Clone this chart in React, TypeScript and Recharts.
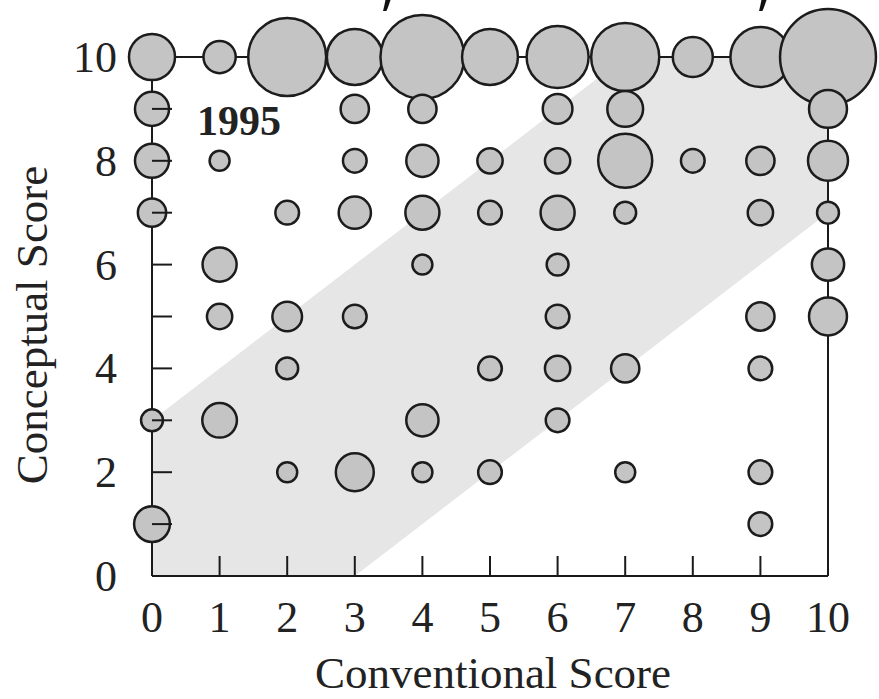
import React from 'react';
import { ComposedChart, Scatter, Area, XAxis, YAxis, ZAxis, ReferenceLine } from 'recharts';

const xTicks = [0, 1, 2, 3, 4, 5, 6, 7, 8, 9, 10];
const yTicks = [0, 1, 2, 3, 4, 5, 6, 7, 8, 9, 10];
const yLabelled = [0, 2, 4, 6, 8, 10];

// shaded band: conceptual score within 3 points of conventional score
const bandX = [0, 3, 7, 10];
const bandLow = [0, 0, 4, 7];
const bandHigh = [3, 6, 10, 10];

// bubbles, one list per conceptual score; z = relative bubble area
const row10X = [0, 1, 2, 3, 4, 5, 6, 7, 8, 9, 10];
const row10Z = [5.3, 2.6, 15.2, 7.8, 17.6, 7.8, 9.6, 11.6, 4, 9, 23];
const row9X = [0, 3, 4, 6, 7, 10];
const row9Z = [2.9, 2, 2, 2.2, 3.2, 3.6];
const row8X = [0, 1, 3, 4, 5, 6, 7, 8, 9, 10];
const row8Z = [2.9, 1, 1.4, 2.6, 1.6, 1.6, 7.3, 1.4, 2, 4];
const row7X = [0, 2, 3, 4, 5, 6, 7, 9, 10];
const row7Z = [2, 1.4, 2.6, 2.9, 1.4, 2.9, 1.2, 1.6, 1.2];
const row6X = [1, 4, 6, 10];
const row6Z = [2.9, 1, 1.2, 2.6];
const row5X = [1, 2, 3, 6, 9, 10];
const row5Z = [1.6, 2.2, 1.4, 1.4, 2, 3.6];
const row4X = [2, 5, 6, 7, 9];
const row4Z = [1.2, 1.4, 1.6, 2, 1.4];
const row3X = [0, 1, 4, 6];
const row3Z = [1.2, 3, 2.6, 1.4];
const row2X = [2, 3, 4, 5, 7, 9];
const row2Z = [1, 3.6, 1, 1.4, 1, 1.4];
const row1X = [0, 9];
const row1Z = [3.2, 1.4];

const rows: [number, number[], number[]][] = [
  [10, row10X, row10Z],
  [9, row9X, row9Z],
  [8, row8X, row8Z],
  [7, row7X, row7Z],
  [6, row6X, row6Z],
  [5, row5X, row5Z],
  [4, row4X, row4Z],
  [3, row3X, row3Z],
  [2, row2X, row2Z],
  [1, row1X, row1Z],
];

const bubbles = rows.flatMap(([y, xs, zs]) => xs.map((x, i) => ({ x, y, z: zs[i] })));
const bandData = bandX.map((x, i) => ({ x, band: [bandLow[i], bandHigh[i]] }));

const serif = '"Liberation Serif", "Times New Roman", serif';

const XTick = (props: any) => {
  const { x, y, payload } = props;
  const v = payload.value;
  return (
    <g>
      {v > 0 && v < 10 && <line x1={x} y1={y} x2={x} y2={y - 20} stroke="#1a1a1a" strokeWidth={2} />}
      <text x={x} y={y + 56} textAnchor="middle" fontFamily={serif} fontSize={44} fill="#222">
        {v}
      </text>
    </g>
  );
};

const YTick = (props: any) => {
  const { x, y, payload } = props;
  const v = payload.value;
  return (
    <g>
      {v > 0 && v < 10 && <line x1={x} y1={y} x2={x + 20} y2={y} stroke="#1a1a1a" strokeWidth={2} />}
      {yLabelled.includes(v) && (
        <text x={x - 35} y={y + 15} textAnchor="end" fontFamily={serif} fontSize={44} fill="#222">
          {v}
        </text>
      )}
    </g>
  );
};

export default function App() {
  return (
    <div style={{ position: 'absolute', left: 0, top: 0, width: 879, height: 699, background: '#fff' }}>
      <ComposedChart width={879} height={699} data={bandData} margin={{ top: 57, right: 51, left: 0, bottom: 0 }}>
        <XAxis
          type="number"
          dataKey="x"
          domain={[0, 10]}
          ticks={xTicks}
          height={123}
          tickSize={0}
          tickMargin={0}
          tickLine={false}
          axisLine={{ stroke: '#1a1a1a', strokeWidth: 2 }}
          tick={<XTick />}
        />
        <YAxis
          type="number"
          dataKey="y"
          domain={[0, 10]}
          ticks={yTicks}
          width={152}
          tickSize={0}
          tickMargin={0}
          tickLine={false}
          axisLine={{ stroke: '#1a1a1a', strokeWidth: 2 }}
          tick={<YTick />}
        />
        <ZAxis type="number" dataKey="z" domain={[0, 25]} range={[0, 7854]} />
        <Area
          type="linear"
          dataKey="band"
          stroke="none"
          fill="#e6e6e6"
          fillOpacity={1}
          isAnimationActive={false}
        />
        <ReferenceLine y={10} stroke="#1a1a1a" strokeWidth={2} />
        <ReferenceLine x={10} stroke="#1a1a1a" strokeWidth={2} />
        <Scatter
          data={bubbles}
          shape="circle"
          fill="#c4c4c4"
          stroke="#1c1c1c"
          strokeWidth={2.5}
          isAnimationActive={false}
        />
      </ComposedChart>
      <svg
        width={879}
        height={699}
        style={{ position: 'absolute', left: 0, top: 0, pointerEvents: 'none' }}
      >
        <text x={197} y={135} fontFamily={serif} fontWeight="bold" fontSize={42} fill="#222">
          1995
        </text>
        <text x={493} y={688} textAnchor="middle" fontFamily={serif} fontSize={45} fill="#222">
          Conventional Score
        </text>
        <text
          x={0}
          y={0}
          transform="translate(47, 325) rotate(-90)"
          textAnchor="middle"
          fontFamily={serif}
          fontSize={45}
          fill="#222"
        >
          Conceptual Score
        </text>
        <text x={388} y={4} textAnchor="middle" fontFamily='"Open Sans", sans-serif' fontSize={56} fill="#111">
          ,
        </text>
        <text x={764} y={4} textAnchor="middle" fontFamily='"Open Sans", sans-serif' fontSize={56} fill="#111">
          ,
        </text>
      </svg>
    </div>
  );
}
